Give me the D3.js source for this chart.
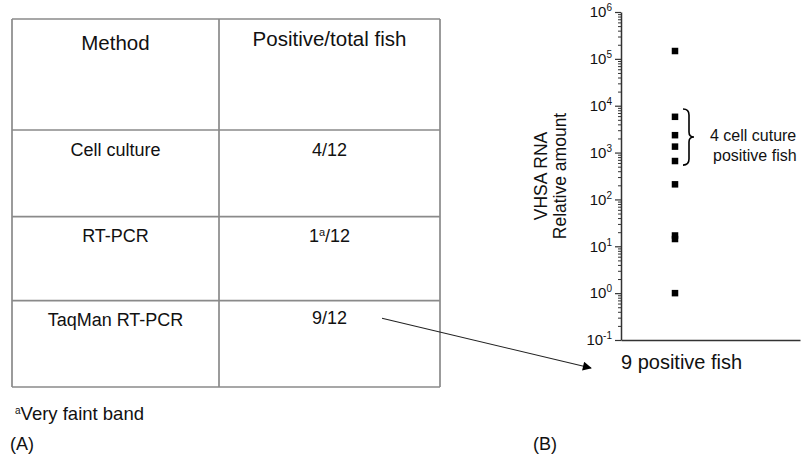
<!DOCTYPE html>
<html>
<head>
<meta charset="utf-8">
<script src="https://cdn.jsdelivr.net/npm/d3@7"></script>
<style>
  body { margin: 0; background: #fff; }
  svg text { font-family: "Liberation Sans", Arial, Helvetica, sans-serif; fill: #111; }
</style>
</head>
<body>
<div id="chart"></div>
<script>
// Table (A)
const headers = ["Method", "Positive/total fish"];
const methods = ["Cell culture", "RT-PCR", "TaqMan RT-PCR"];
const positives = [4, 1, 9];
const totalFish = 12;
const footMarks = ["", "a", ""];
const footnote = "Very faint band";

// Scatter (B): relative VHSA RNA amount of the 9 positive fish
const fishGroup = ["9 positive fish"];
const rnaAmount = [147000, 5800, 2350, 1340, 660, 210, 17, 14.3, 1.0];
const cultureBracket = [8500, 540]; // span of the 4 cell culture positive fish
const bracketLabel = ["4 cell cuture", "positive fish"];
const yExponents = [-1, 0, 1, 2, 3, 4, 5, 6];
const yLabel = ["VHSA RNA", "Relative amount"];

const W = 801, H = 456;
const svg = d3.select("#chart").append("svg")
    .attr("width", W)
    .attr("height", H);

// ---------- table ----------
const colX = d3.scaleOrdinal().domain([0, 1, 2]).range([12, 219, 440]);
const rowY = [19, 130, 216.7, 300.7, 387];
const tbl = svg.append("g");

tbl.selectAll(".hline")
  .data(rowY)
  .enter().append("line")
    .attr("x1", colX(0)).attr("x2", colX(2))
    .attr("y1", d => d).attr("y2", d => d)
    .attr("stroke", "#8a8a8a").attr("stroke-width", 1.7);
tbl.selectAll(".vline")
  .data([0, 1, 2])
  .enter().append("line")
    .attr("x1", d => colX(d)).attr("x2", d => colX(d))
    .attr("y1", rowY[0]).attr("y2", rowY[rowY.length - 1])
    .attr("stroke", "#8a8a8a").attr("stroke-width", 1.7);

const colMid = i => (colX(i) + colX(i + 1)) / 2;

tbl.selectAll(".head")
  .data(headers)
  .enter().append("text")
    .attr("x", (d, i) => colMid(i))
    .attr("y", (d, i) => i === 0 ? 50 : 46)
    .attr("text-anchor", "middle")
    .style("font-size", "20.5px")
    .text(d => d);

tbl.selectAll(".method")
  .data(methods)
  .enter().append("text")
    .attr("x", colMid(0))
    .attr("y", (d, i) => rowY[i + 1] + 25.5)
    .attr("text-anchor", "middle")
    .style("font-size", "18px")
    .text(d => d);

const ratio = tbl.selectAll(".ratio")
  .data(positives)
  .enter().append("text")
    .attr("x", colMid(1))
    .attr("y", (d, i) => rowY[i + 1] + (i === 2 ? 23.5 : 25.5))
    .attr("text-anchor", "middle")
    .style("font-size", "18px");
ratio.append("tspan").text(d => d);
ratio.append("tspan")
    .attr("dy", -6)
    .style("font-size", "11px")
    .text((d, i) => footMarks[i]);
ratio.append("tspan")
    .attr("dy", (d, i) => footMarks[i] ? 6 : 0)
    .text("/" + totalFish);

const fn = svg.append("text")
    .attr("x", 15).attr("y", 420)
    .style("font-size", "18.5px");
fn.append("tspan").attr("dy", -6).style("font-size", "10px").text("a");
fn.append("tspan").attr("dy", 6).text(footnote);

svg.append("text").attr("x", 10).attr("y", 450).style("font-size", "18px").text("(A)");
svg.append("text").attr("x", 533).attr("y", 450).style("font-size", "18px").text("(B)");

// ---------- scatter ----------
const y = d3.scaleLog().domain([0.1, 1e6]).range([340, 12]);
const x = d3.scalePoint().domain(fishGroup).range([621, 729]).padding(0.5);
const axisX0 = 621, axisX1 = 800;

const minorTicks = [];
yExponents.slice(0, -1).forEach(e => {
  for (let k = 2; k <= 9; k++) minorTicks.push(k * Math.pow(10, e));
});

svg.append("g")
    .attr("transform", `translate(${axisX0},0)`)
    .call(d3.axisLeft(y).tickValues(minorTicks).tickSize(3).tickFormat(""))
    .call(g => g.select(".domain").remove())
    .call(g => g.selectAll("line").attr("stroke", "#333"));

const yAxis = svg.append("g")
    .attr("transform", `translate(${axisX0},0)`)
    .call(d3.axisLeft(y)
      .tickValues(yExponents.map(e => Math.pow(10, e)))
      .tickSize(6).tickSizeOuter(0).tickPadding(3)
      .tickFormat(""));
yAxis.select(".domain").attr("stroke", "#333").attr("stroke-width", 1.5);
yAxis.selectAll("line").attr("stroke", "#333").attr("stroke-width", 1.2);
yAxis.selectAll(".tick text")
    .style("font-size", "15px")
    .attr("fill", "#111")
    .each(function(d) {
      const t = d3.select(this);
      t.append("tspan").text("10");
      t.append("tspan").attr("dy", -6).style("font-size", "10px")
        .text(Math.round(Math.log10(d)));
    });

// x axis baseline
svg.append("g")
    .attr("transform", `translate(0,${y(0.1)})`)
    .call(d3.axisBottom(d3.scaleLinear().domain([0, 1]).range([axisX0, axisX1]))
      .tickValues([]).tickSizeOuter(0))
    .call(g => g.select(".domain").attr("stroke", "#333").attr("stroke-width", 1.5));

svg.append("text")
    .attr("x", axisX0).attr("y", 369)
    .style("font-size", "20px")
    .text(fishGroup[0]);

// y label
const yl = svg.append("text")
    .attr("transform", "translate(566,176) rotate(-90)")
    .attr("text-anchor", "middle")
    .style("font-size", "17.5px");
yl.selectAll("tspan")
  .data(yLabel)
  .enter().append("tspan")
    .attr("x", 0)
    .attr("y", (d, i) => (i - 1) * 19)
    .text(d => d);

// points
const sq = 6.5;
svg.selectAll(".pt")
  .data(rnaAmount)
  .enter().append("rect")
    .attr("x", x(fishGroup[0]) - sq / 2)
    .attr("y", d => y(d) - sq / 2)
    .attr("width", sq).attr("height", sq)
    .attr("fill", "#000");

// brace
const bTop = y(cultureBracket[0]), bBot = y(cultureBracket[1]);
const bMid = (bTop + bBot) / 2;
const bx = x(fishGroup[0]) + 8, bw = 6;
svg.append("path")
    .attr("d", `M${bx},${bTop} Q${bx + bw},${bTop} ${bx + bw},${bTop + 6}
      L${bx + bw},${bMid - 5} Q${bx + bw},${bMid} ${bx + bw + 5},${bMid}
      Q${bx + bw},${bMid} ${bx + bw},${bMid + 5}
      L${bx + bw},${bBot - 6} Q${bx + bw},${bBot} ${bx},${bBot}`)
    .attr("fill", "none").attr("stroke", "#000").attr("stroke-width", 1.6);

svg.append("text")
    .attr("x", 710).attr("y", bMid + 4)
    .style("font-size", "16px")
    .selectAll("tspan")
  .data(bracketLabel)
  .enter().append("tspan")
    .attr("x", (d, i) => i === 0 ? 710 : 713)
    .attr("dy", (d, i) => i === 0 ? 0 : 20)
    .text(d => d);

// arrow from TaqMan cell to the scatter
svg.append("defs").append("marker")
    .attr("id", "head")
    .attr("viewBox", "0 0 10 10")
    .attr("refX", 9).attr("refY", 5)
    .attr("markerWidth", 12).attr("markerHeight", 9)
    .attr("markerUnits", "userSpaceOnUse")
    .attr("orient", "auto")
  .append("path").attr("d", "M0,0 L10,5 L0,10 Z").attr("fill", "#000");

svg.append("line")
    .attr("x1", 382).attr("y1", rowY[3] + 17.5)
    .attr("x2", 591).attr("y2", 368)
    .attr("stroke", "#222").attr("stroke-width", 1.1)
    .attr("marker-end", "url(#head)");
</script>
</body>
</html>
